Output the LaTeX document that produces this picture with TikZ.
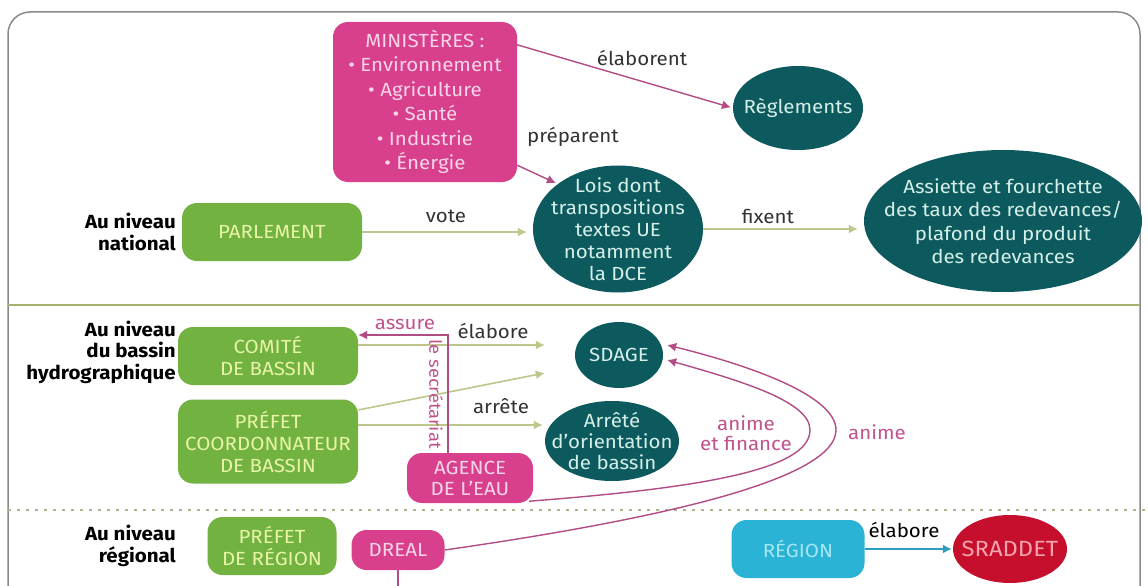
\documentclass[tikz,border=0pt]{standalone}
\usepackage{fontspec}
\setmainfont{Fira Sans}[FakeStretch=1.08]
\usetikzlibrary{arrows.meta,shapes.geometric,calc}
\definecolor{cgreen}{HTML}{71B241}
\definecolor{cgreentxt}{HTML}{E8F4A6}
\definecolor{cteal}{HTML}{0D5A5E}
\definecolor{ctealtxt}{HTML}{D4EEE8}
\definecolor{cpink}{HTML}{D8408E}
\definecolor{cpinktxt}{HTML}{F8D4E6}
\definecolor{cpline}{HTML}{B24C84}
\definecolor{cplab}{HTML}{C0528E}
\definecolor{colive}{HTML}{BEC68C}
\definecolor{ccyan}{HTML}{2AB3D5}
\definecolor{ccyantxt}{HTML}{A6E6F2}
\definecolor{ccyanarr}{HTML}{2A9EBF}
\definecolor{cred}{HTML}{C60F2C}
\definecolor{credtxt}{HTML}{F7A3AE}
\definecolor{cframe}{HTML}{8A8A8A}
\definecolor{csec}{HTML}{A6B26E}
\definecolor{cdot}{HTML}{AEB38E}
\definecolor{clab}{HTML}{333333}
\begin{document}
\begin{tikzpicture}[x=1pt,y=-1pt,
  every node/.style={font=\fontsize{19}{22}\selectfont, inner sep=0pt, align=center},
  gbox/.style={rectangle, rounded corners=15pt, fill=cgreen, text=cgreentxt},
  pbox/.style={rectangle, rounded corners=15pt, fill=cpink, text=cpinktxt},
  tell/.style={ellipse, fill=cteal},
  ttxt/.style={text=ctealtxt, align=center},
  lvl/.style={anchor=east, align=right, text=black, font=\bfseries\fontsize{19}{21.5}\selectfont},
  lab/.style={text=clab},
  plab/.style={text=cplab},
  oarr/.style={draw=colive, line width=1.6pt, -{Latex[length=9pt,width=9pt]}},
  parr/.style={draw=cpline, line width=1.4pt, -{Latex[length=9pt,width=9pt]}},
  pline/.style={draw=cpline, line width=1.4pt},
  carr/.style={draw=ccyanarr, line width=1.6pt, -{Latex[length=9pt,width=9pt]}}]
\useasboundingbox (0,0) rectangle (1148,586);
\fill[white] (0,0) rectangle (1148,586);
\clip (0,0) rectangle (1148,586);
% frame and separators
\draw[cframe, line width=1.5pt, rounded corners=22pt] (8,640) |- (1140,12) -- (1140,640);
\draw[csec, line width=2.2pt] (8,305) -- (1140,305);
\draw[cdot, line width=2.5pt, dash pattern=on 3pt off 6pt] (8,510) -- (1148,510);

% national level
\node[pbox, minimum width=184, minimum height=160, font=\fontsize{19}{24.5}\selectfont] (min) at (425,102)
  {MINISTÈRES :\\• Environnement\\• Agriculture\\• Santé\\• Industrie\\• Énergie};
\node[tell, minimum width=130, minimum height=84, label={[ttxt]center:Règlements}] (regl) at (798,108) {};
\node[tell, minimum width=170, minimum height=127,
  label={[ttxt]center:{Lois dont\\transpositions\\textes UE\\notamment\\la DCE}}] (lois) at (618,229) {};
\node[tell, minimum width=278, minimum height=142,
  label={[ttxt, font=\fontsize{19}{23.5}\selectfont]center:{Assiette et fourchette\\des taux des redevances/\\plafond du produit\\des redevances}}] (ass) at (1003,221) {};
\node[gbox, minimum width=180, minimum height=58] (parl) at (272,232) {PARLEMENT};
\node[lvl] (lnat) at (176,232) {Au niveau\\national};

\draw[parr, shorten >=2pt] ($(min.north east)+(0,23)$) -- (regl.west);
\node[lab] (lelab) at (642,58) {élaborent};
\draw[parr, shorten >=2pt] ($(min.south east)+(0,-17)$) -- (lois.north west);
\node[lab] (lprep) at (573,137) {préparent};
\draw[oarr, shorten >=6pt] (parl.east) -- (parl.east -| lois.west);
\node[lab] (lvote) at (446,216) {vote};
\draw[oarr, shorten >=6pt] (lois.east) -- (lois.east -| ass.west);
\node[lab] (lfix) at (768,216) {fixent};

% basin level
\node[lvl] (lbas) at (176,352) {Au niveau\\du bassin\\hydrographique};
\node[gbox, minimum width=180, minimum height=58] (comite) at (268,356) {COMITÉ\\DE BASSIN};
\node[gbox, minimum width=180, minimum height=84] (pc) at (268,441.5) {PRÉFET\\COORDONNATEUR\\DE BASSIN};
\node[pbox, minimum width=126, minimum height=50, font=\fontsize{19}{21}\selectfont] (agence) at (470,478) {AGENCE\\DE L'EAU};
\node[tell, minimum width=88, minimum height=66, label={[ttxt]center:SDAGE}] (sdage) at (619,355) {};
\node[tell, minimum width=134, minimum height=80,
  label={[ttxt, font=\fontsize{19}{21}\selectfont]center:{Arrêté\\d'orientation\\de bassin}}] (arr) at (612,441) {};

\draw[oarr] ($(comite.east)+(0,-11)$) -- ($(sdage.west)+(-30,-10)$);
\node[lab] (lelab2) at (493,331) {élabore};
\draw[oarr] ($(pc.east)+(0,-31.5)$) -- ($(sdage.west)+(-30,18)$);
\draw[oarr] ($(pc.east)+(0,-16.5)$) -- ($(arr.west)+(-2,-16)$);
\node[lab] (larr) at (501,406) {arrête};
\draw[parr] ($(agence.north)+(-22,0)$) |- ($(comite.east)+(0,-21)$);
\node[plab] (lass) at (405,324) {assure};
\node[plab, rotate=-90, font=\fontsize{17}{20}\selectfont] (lsec) at (436,394) {le secrétariat};

% regional level
\node[lvl] (lreg) at (176,546) {Au niveau\\régional};
\node[gbox, minimum width=129, minimum height=58, font=\fontsize{19}{21.5}\selectfont] (preg) at (272,546) {PRÉFET\\DE RÉGION};
\node[pbox, minimum width=93, minimum height=40] (dreal) at (398,550) {DREAL};
\node[rectangle, rounded corners=15pt, fill=ccyan, text=ccyantxt, minimum width=133, minimum height=58] (region) at (798,549) {RÉGION};
\node[ellipse, fill=cred, minimum width=114, minimum height=68,
  label={[text=credtxt, font=\fontsize{22}{24}\selectfont]center:SRADDET}] (srad) at (1010,549) {};
\draw[carr, shorten >=1pt] (region.east) -- (srad.west);
\node[text=black] (lelab3) at (904,530) {élabore};

\draw[pline] (dreal.south) -- ++(0,30);

% curved arrows to SDAGE
\draw[parr] ($(agence.south east)+(-4,-2)$) .. controls (700,488) and (810,470) .. (810,430)
  .. controls (810,402) and (745,382) .. ($(sdage.east)+(4,5)$);
\draw[parr] (dreal.east) .. controls (640,522) and (836,482) .. (836,430)
  .. controls (836,396) and (752,366) .. ($(sdage.east)+(4,-10)$);
\node[plab, font=\fontsize{19}{20}\selectfont] (lanf) at (746,433) {anime\\et finance};
\node[plab] (lan) at (877,432) {anime};
\end{tikzpicture}
\end{document}
